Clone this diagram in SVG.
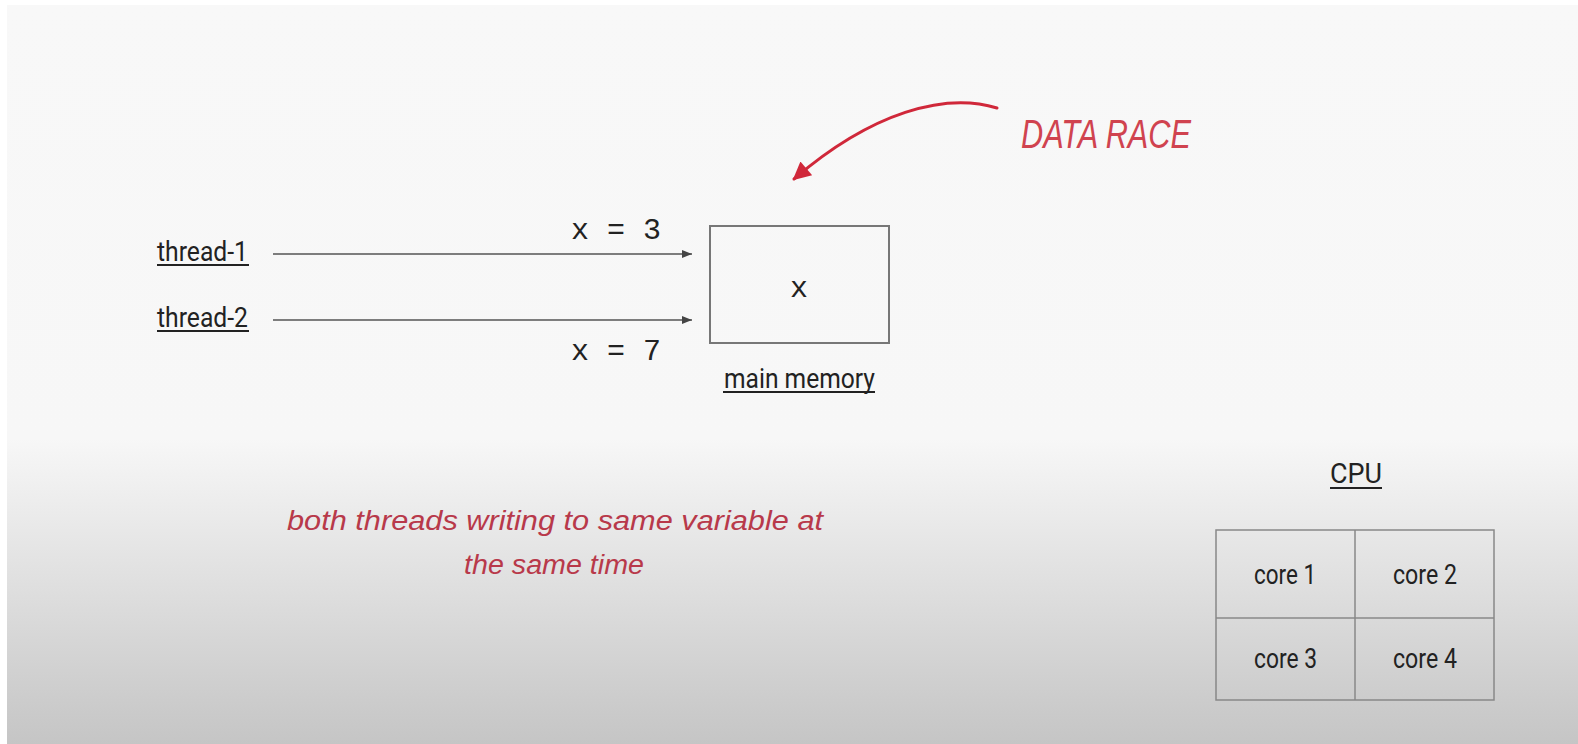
<svg xmlns="http://www.w3.org/2000/svg" width="1578" height="744" viewBox="0 0 1578 744">
  <defs>
    <linearGradient id="bg" x1="0" y1="0" x2="0" y2="744" gradientUnits="userSpaceOnUse">
      <stop offset="0" stop-color="#f8f8f8"/>
      <stop offset="0.59" stop-color="#f7f7f7"/>
      <stop offset="1" stop-color="#c5c5c5"/>
    </linearGradient>
    <marker id="ah" viewBox="0 0 10 8" refX="10" refY="4" markerUnits="userSpaceOnUse" markerWidth="11" markerHeight="8" orient="auto">
      <path d="M0,0 L10,4 L0,8 z" fill="#444"/>
    </marker>
    <marker id="redah" viewBox="0 0 10 10" refX="9" refY="5" markerUnits="userSpaceOnUse" markerWidth="24" markerHeight="18" orient="auto">
      <path d="M0,0 L10,5 L0,10 z" fill="#d0283a"/>
    </marker>
  </defs>
  <style>
    .lbl { font-family: Roboto, "Liberation Sans", sans-serif; font-size: 24.5px; fill: #222; }
    .tall { font-family: Roboto, "Liberation Sans", sans-serif; font-size: 27px; fill: #222; }
    .mono { font-family: "Liberation Mono", "DejaVu Sans Mono", monospace; font-size: 30px; fill: #222; }
    .ul { stroke: #222; stroke-width: 2; }
    .hand { font-family: "Liberation Sans", "DejaVu Sans", sans-serif; font-style: italic; fill: #b8394a; }
    .box { fill: none; stroke: #777; stroke-width: 2; }
    .grid { fill: none; stroke: #888; stroke-width: 1.5; }
    .conn { stroke: #555; stroke-width: 1.5; fill: none; }
  </style>
  <rect x="0" y="0" width="1578" height="744" fill="#ffffff"/>
  <rect x="7" y="5" width="1571" height="739" fill="url(#bg)"/>

  <g id="thread-1">
    <text class="tall" x="157" y="261" textLength="91" lengthAdjust="spacingAndGlyphs">thread-1</text>
    <line class="ul" x1="157" y1="265" x2="249" y2="265"/>
  </g>
  <g id="thread-2">
    <text class="tall" x="157" y="327" textLength="91" lengthAdjust="spacingAndGlyphs">thread-2</text>
    <line class="ul" x1="157" y1="331" x2="249" y2="331"/>
  </g>

  <g id="main-memory">
    <rect class="box" x="710" y="226" width="179" height="117"/>
    <text class="mono" x="799" y="297" text-anchor="middle">x</text>
    <text class="tall" x="724" y="388" textLength="151" lengthAdjust="spacingAndGlyphs">main memory</text>
    <line class="ul" x1="723" y1="392" x2="875" y2="392"/>
  </g>

  <g id="cpu">
    <text class="tall" x="1330" y="483" textLength="52" lengthAdjust="spacingAndGlyphs">CPU</text>
    <line class="ul" x1="1330" y1="488" x2="1382" y2="488"/>
    <rect class="grid" x="1216" y="530" width="278" height="170"/>
    <line class="grid" x1="1355" y1="530" x2="1355" y2="700"/>
    <line class="grid" x1="1216" y1="618" x2="1494" y2="618"/>
    <text class="tall" x="1254" y="584" textLength="62" lengthAdjust="spacingAndGlyphs">core 1</text>
    <text class="tall" x="1393" y="584" textLength="64" lengthAdjust="spacingAndGlyphs">core 2</text>
    <text class="tall" x="1254" y="668" textLength="63" lengthAdjust="spacingAndGlyphs">core 3</text>
    <text class="tall" x="1393" y="668" textLength="64" lengthAdjust="spacingAndGlyphs">core 4</text>
  </g>

  <g id="data-race-note">
    <text class="hand" x="1021" y="148" textLength="170" lengthAdjust="spacingAndGlyphs" style="font-size:40px;fill:#d0434f">DATA RACE</text>
  </g>

  <g id="caption">
    <text class="hand" x="287" y="530" textLength="536" lengthAdjust="spacingAndGlyphs" style="font-size:27px">both threads writing to same variable at</text>
    <text class="hand" x="464" y="574" textLength="180" lengthAdjust="spacingAndGlyphs" style="font-size:27px">the same time</text>
  </g>

  <g id="connectors">
    <line class="conn" x1="273" y1="254" x2="692" y2="254" marker-end="url(#ah)"/>
    <text class="mono" x="571" y="239">x = 3</text>
    <line class="conn" x1="273" y1="320" x2="692" y2="320" marker-end="url(#ah)"/>
    <text class="mono" x="571" y="360">x = 7</text>
    <path d="M997,108 C945,92 872,112 794,179" fill="none" stroke="#d0283a" stroke-width="3" stroke-linecap="round" marker-end="url(#redah)"/>
  </g>
</svg>
